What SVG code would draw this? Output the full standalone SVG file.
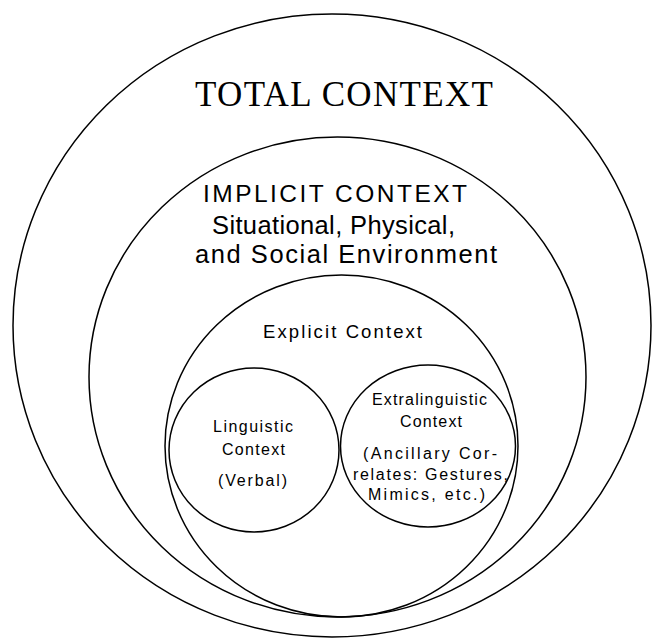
<svg xmlns="http://www.w3.org/2000/svg" width="652" height="638" viewBox="0 0 652 638">
<style>
.c{fill:none;stroke:#000;stroke-width:1.5}
.s{font-family:"Liberation Sans",Arial,sans-serif;fill:#000;text-anchor:middle}
.t{font-family:"Liberation Serif","Times New Roman",serif;fill:#000;text-anchor:middle}
</style>
<rect width="652" height="638" fill="#fff"/>
<g id="total">
<ellipse class="c" cx="332" cy="325.5" rx="319" ry="311.5"/>
<text class="t" x="344" y="106" font-size="35" textLength="298" lengthAdjust="spacing">TOTAL CONTEXT</text>
</g>
<g id="implicit">
<ellipse class="c" cx="337.5" cy="377" rx="248.5" ry="240"/>
<text class="s" x="335" y="202" font-size="24.5" textLength="264" lengthAdjust="spacing">IMPLICIT CONTEXT</text>
<text class="s" x="333.5" y="234" font-size="25.5" textLength="243" lengthAdjust="spacing">Situational, Physical,</text>
<text class="s" x="346" y="263" font-size="25.5" textLength="302" lengthAdjust="spacing">and Social Environment</text>
</g>
<g id="explicit">
<ellipse class="c" cx="341.5" cy="446" rx="176.5" ry="171"/>
<text class="s" x="342.5" y="338" font-size="18.5" textLength="159" lengthAdjust="spacing">Explicit Context</text>
</g>
<g id="linguistic">
<ellipse class="c" cx="254" cy="450" rx="85" ry="82"/>
<text class="s" x="253" y="432" font-size="16" textLength="80" lengthAdjust="spacing">Linguistic</text>
<text class="s" x="253.5" y="455" font-size="16" textLength="63" lengthAdjust="spacing">Context</text>
<text class="s" x="252.5" y="486" font-size="16" textLength="69" lengthAdjust="spacing">(Verbal)</text>
</g>
<g id="extralinguistic">
<ellipse class="c" cx="428" cy="446" rx="87.5" ry="81"/>
<text class="s" x="429.5" y="405" font-size="16" textLength="115" lengthAdjust="spacing">Extralinguistic</text>
<text class="s" x="431" y="427" font-size="16" textLength="62" lengthAdjust="spacing">Context</text>
<text class="s" x="430" y="459" font-size="16" textLength="134" lengthAdjust="spacing">(Ancillary Cor-</text>
<text class="s" x="430.5" y="480" font-size="16" textLength="155" lengthAdjust="spacing">relates: Gestures,</text>
<text class="s" x="426.5" y="500" font-size="16" textLength="117" lengthAdjust="spacing">Mimics, etc.)</text>
</g>
<g id="connectors"/>
</svg>
